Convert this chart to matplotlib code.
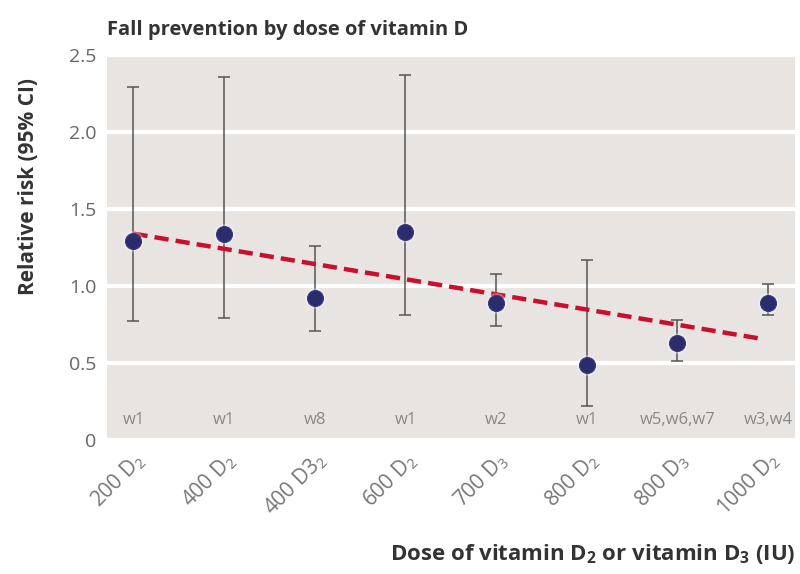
import matplotlib
matplotlib.use("Agg")
import matplotlib.pyplot as plt
from matplotlib import font_manager

# Doses (categorical x axis) and study references
doses = ["200 D$_2$", "400 D$_2$", "400 D3$_2$", "600 D$_2$",
         "700 D$_3$", "800 D$_2$", "800 D$_3$", "1000 D$_2$"]
studies = ["w1", "w1", "w8", "w1", "w2", "w1", "w5,w6,w7", "w3,w4"]

# Relative risk with 95% confidence interval
rr = [1.29, 1.34, 0.92, 1.35, 0.89, 0.49, 0.63, 0.89]
ci_low = [0.77, 0.79, 0.71, 0.81, 0.74, 0.22, 0.51, 0.81]
ci_high = [2.29, 2.36, 1.26, 2.37, 1.08, 1.17, 0.78, 1.01]

# Linear trend across doses (start and end on the category scale)
trend_x = [0, 6.9]
trend_y = [1.34, 0.66]

yticks = [0, 0.5, 1.0, 1.5, 2.0, 2.5]
ytick_labels = ["0", "0.5", "1.0", "1.5", "2.0", "2.5"]

available = {f.name for f in font_manager.fontManager.ttflist}
narrow = next((n for n in ["Liberation Sans Narrow", "DejaVu Sans Condensed",
                           "Open Sans"] if n in available), "DejaVu Sans")
body = "Open Sans" if "Open Sans" in available else "DejaVu Sans"
plt.rcParams["font.family"] = [body, "DejaVu Sans"]
plt.rcParams["mathtext.fontset"] = "custom"
plt.rcParams["mathtext.rm"] = body
plt.rcParams["mathtext.bf"] = narrow + ":bold"

fig = plt.figure(figsize=(8, 5.74), dpi=100)
ax = fig.add_axes([0.134, 0.2334, 0.86, 0.6708])
ax.set_facecolor("#e8e4e2")
for s in ax.spines.values():
    s.set_visible(False)

x = list(range(len(doses)))
ax.set_xlim(-0.29, 7.3)
ax.set_ylim(0, 2.5)
ax.set_yticks(yticks)
ax.set_yticklabels(ytick_labels, color="#666666", fontsize=14)
ax.yaxis.grid(True, color="white", linewidth=3)
ax.set_axisbelow(True)
ax.tick_params(axis="both", length=0, pad=8)

ax.set_xticks(x)
ax.set_xticklabels(doses, rotation=45, ha="right", rotation_mode="anchor",
                   color="#777777", fontsize=15)
ax.tick_params(axis="x", pad=6)

yerr = [[r - lo for r, lo in zip(rr, ci_low)], [hi - r for r, hi in zip(rr, ci_high)]]
ax.errorbar(x, rr, yerr=yerr, fmt="none", ecolor="#555555", elinewidth=1.1,
            capsize=4.5, capthick=1.1, zorder=2)

ax.plot(trend_x, trend_y, color="#c8102e", linewidth=3.2, dashes=(3.2, 1.6),
        zorder=3)

ax.plot(x, rr, "o", markersize=15, color="white", alpha=0.3, zorder=3.5,
        markeredgewidth=0)
ax.plot(x, rr, "o", markersize=11.5, markerfacecolor="#2b2c6e",
        markeredgecolor="#3a3c80", markeredgewidth=0.8, zorder=4)

for xi, s in zip(x, studies):
    ax.text(xi, 0.13, s, ha="center", va="center", color="#888888", fontsize=12)

head = dict(fontweight="bold", color="#333333", family=[narrow, "DejaVu Sans"])
fig.text(0.134, 0.948, "Fall prevention by dose of vitamin D", ha="left",
         va="center", fontsize=14.5, **head)
fig.text(0.035, 0.675, "Relative risk (95% CI)", rotation=90, ha="center",
         va="center", fontsize=15, **head)
fig.text(0.994, 0.035, r"Dose of vitamin D$_\mathbf{2}$ or vitamin D$_\mathbf{3}$ (IU)",
         ha="right", va="center", fontsize=16, **head)

fig.savefig("out.png", dpi=100)
